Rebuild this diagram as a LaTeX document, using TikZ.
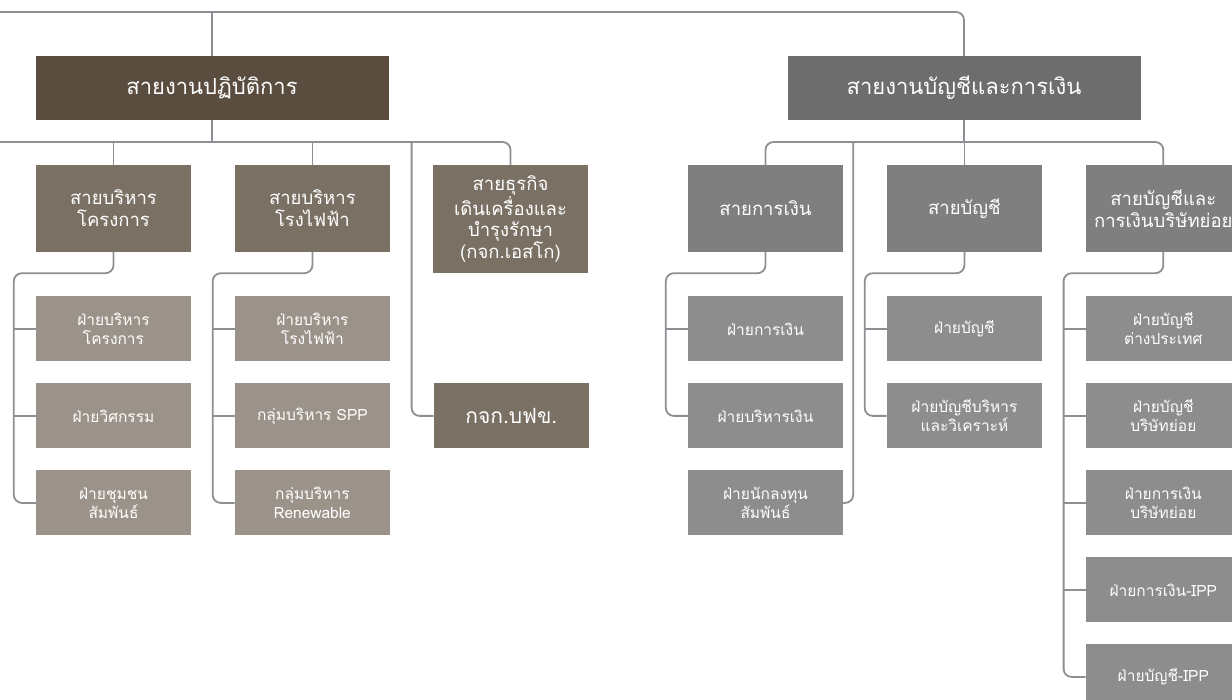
\documentclass[tikz,border=0pt]{standalone}
\usepackage{fontspec}
\setmainfont[Script=Thai]{Loma}
\usetikzlibrary{positioning,calc}
\definecolor{opsbrown}{HTML}{5A4D40}
\definecolor{divbrown}{HTML}{7A7064}
\definecolor{deptbrown}{HTML}{9B938A}
\definecolor{fingray}{HTML}{6D6D6D}
\definecolor{divgray}{HTML}{7F7F7F}
\definecolor{deptgray}{HTML}{8D8D8D}
\definecolor{linegray}{HTML}{8C9094}
\begin{document}
\begin{tikzpicture}[x=1pt, y=-1pt, node distance=87pt,
  dept/.style={rectangle, text=white, align=center, inner sep=0pt, minimum width=155pt, minimum height=65pt, font=\fontsize{15.5}{19}\selectfont},
  div/.style={dept, minimum height=87pt, font=\fontsize{18.5}{22}\selectfont},
  head/.style={dept, minimum width=353pt, minimum height=64pt, font=\fontsize{22}{26}\selectfont},
  line/.style={draw=linegray, line width=1.8pt, rounded corners=8pt}]
\useasboundingbox (0,0) rectangle (1232,700);

\node (ops) [head, fill=opsbrown] at (212,88) {สายงานปฏิบัติการ};
\node (fin) [head, fill=fingray] at (964,88) {สายงานบัญชีและการเงิน};

\node (p1) [div, fill=divbrown] at (113.5,208.5) {สายบริหาร\\โครงการ};
\node (p2) [div, fill=divbrown, right=43.5pt of p1] {สายบริหาร\\โรงไฟฟ้า};
\node (biz) [div, fill=divbrown, minimum height=108pt, font=\fontsize{18.5}{21.5}\selectfont] at (510.5,219) {สายธุรกิจ\\เดินเครื่องและ\\บำรุงรักษา\\(กจก.เอสโก)};

\node (s11) [dept, fill=deptbrown, below=44pt of p1] {ฝ่ายบริหาร\\โครงการ};
\node (s12) [dept, fill=deptbrown, below of=s11] {ฝ่ายวิศกรรม};
\node (s13) [dept, fill=deptbrown, below of=s12] {ฝ่ายชุมชน\\สัมพันธ์};
\node (s21) [dept, fill=deptbrown, below=44pt of p2] {ฝ่ายบริหาร\\โรงไฟฟ้า};
\node (s22) [dept, fill=deptbrown, below of=s21] {กลุ่มบริหาร SPP};
\node (s23) [dept, fill=deptbrown, below of=s22] {กลุ่มบริหาร\\Renewable};
\node (kegco) [dept, fill=divbrown, right=43.5pt of s22, font=\fontsize{21}{24}\selectfont] {กจก.บฟข.};

\node (r1) [div, fill=divgray] at (765.5,208.5) {สายการเงิน};
\node (r2) [div, fill=divgray, right=43.5pt of r1] {สายบัญชี};
\node (r3) [div, fill=divgray, right=43.5pt of r2] {สายบัญชีและ\\การเงินบริษัทย่อย};

\node (f11) [dept, fill=deptgray, below=44pt of r1] {ฝ่ายการเงิน};
\node (f12) [dept, fill=deptgray, below of=f11] {ฝ่ายบริหารเงิน};
\node (f13) [dept, fill=deptgray, below of=f12] {ฝ่ายนักลงทุน\\สัมพันธ์};
\node (f21) [dept, fill=deptgray, below=44pt of r2] {ฝ่ายบัญชี};
\node (f22) [dept, fill=deptgray, below of=f21] {ฝ่ายบัญชีบริหาร\\และวิเคราะห์};
\node (f31) [dept, fill=deptgray, below=44pt of r3] {ฝ่ายบัญชี\\ต่างประเทศ};
\node (f32) [dept, fill=deptgray, below of=f31] {ฝ่ายบัญชี\\บริษัทย่อย};
\node (f33) [dept, fill=deptgray, below of=f32] {ฝ่ายการเงิน\\บริษัทย่อย};
\node (f34) [dept, fill=deptgray, below of=f33] {ฝ่ายการเงิน-IPP};
\node (f35) [dept, fill=deptgray, below of=f34] {ฝ่ายบัญชี-IPP};

\coordinate (topL) at (0,12);
\coordinate (midL) at (0,142);
\coordinate (kegIn) at ($(kegco.west)+(-22,0)$);
\coordinate (irIn) at ($(f13.east)+(10,0)$);

\draw[line] (topL) -| (fin.north);
\draw[line] (ops.north) -- (ops.north |- topL);
\draw[line] (ops.south) -- (ops.south |- midL);
\draw[line] (midL) -| (biz.north);
\draw[line] (p1.north) -- (p1.north |- midL);
\draw[line] (p2.north) -- (p2.north |- midL);
\draw[line] (kegIn |- midL) |- (kegco.west);

\draw[line] (p1.south) -- ++(0,21) -| ($(s13.west)+(-22,0)$) -- (s13.west);
\draw[line] (p2.south) -- ++(0,21) -| ($(s23.west)+(-22,0)$) -- (s23.west);

\draw[line] (fin.south) -- (fin.south |- midL);
\draw[line] (r1.north) |- (r2.north |- midL) -| (r3.north);
\draw[line] (r2.north) -- (r2.north |- midL);
\draw[line] (irIn |- midL) |- (f13.east);

\draw[line] (r1.south) -- ++(0,21) -| ($(f12.west)+(-22,0)$) -- (f12.west);
\draw[line] (r2.south) -- ++(0,21) -| ($(f22.west)+(-22,0)$) -- (f22.west);
\draw[line] (r3.south) -- ++(0,21) -| ($(f35.west)+(-22,0)$) -- (f35.west);

\foreach \d in {s11,s12,s21,s22,f11,f21,f31,f32,f33,f34}
  \draw[line] (\d.west) -- ++(-22,0);
\end{tikzpicture}
\end{document}
